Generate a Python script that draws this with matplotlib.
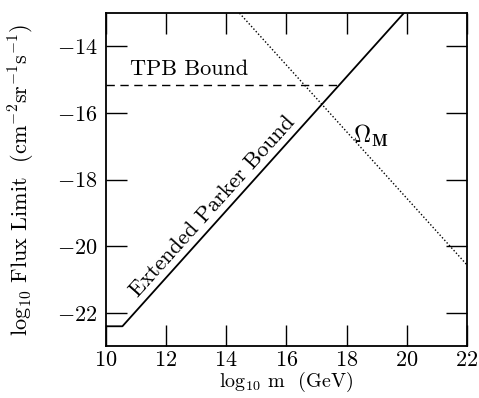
import numpy as np
import matplotlib
matplotlib.use("Agg")
import matplotlib.pyplot as plt

plt.rcParams["font.family"] = "cmr10"
plt.rcParams["mathtext.fontset"] = "cm"
plt.rcParams["axes.formatter.use_mathtext"] = True

# Extended Parker bound (log10 m, log10 flux)
parker_m = [10.0, 10.55, 19.9]
parker_f = [-22.4, -22.4, -13.0]

# TPB bound
tpb_m = [10.0, 17.75]
tpb_f = [-15.15, -15.15]

# Omega_M line
omega_m = [14.44, 22.0]
omega_f = [-13.0, -20.56]

xticks = [10, 12, 14, 16, 18, 20, 22]
yticks = [-22, -20, -18, -16, -14]

fig = plt.figure(figsize=(4.79, 3.98), dpi=100)
ax = fig.add_axes([0.221, 0.13, 0.754, 0.837])

ax.plot(parker_m, parker_f, color="black", lw=1.3)
ax.plot(tpb_m, tpb_f, color="black", lw=1.0, ls=(0, (6, 4)))
ax.plot(omega_m, omega_f, color="black", lw=1.0, ls=(0, (1, 1.5)))

ax.set_xlim(10, 22)
ax.set_ylim(-23, -13)
ax.set_xticks(xticks)
ax.set_yticks(yticks)
ax.tick_params(direction="in", length=15, width=1, top=True, right=True,
               labelsize=16, pad=6)
ax.tick_params(axis="x", pad=3)
for s in ax.spines.values():
    s.set_linewidth(1.3)

ax.text(10.8, -14.85, "TPB Bound", fontsize=16)
ax.text(13.55, -18.8, "Extended Parker Bound", fontsize=16, rotation=48,
        ha="center", va="center", rotation_mode="anchor")
ax.text(18.2, -16.9, r"$\Omega_{\mathbf{M}}$", fontsize=17)

ax.set_xlabel(r"log$_{10}$ m  (GeV)", fontsize=14.5)
ax.xaxis.set_label_coords(0.5, -0.072)
ax.set_ylabel(r"log$_{10}$ Flux Limit  (cm$^{-2}$sr$^{-1}$s$^{-1}$)", fontsize=16)
ax.yaxis.set_label_coords(-0.19, 0.5)

plt.savefig("out.png", dpi=100)
